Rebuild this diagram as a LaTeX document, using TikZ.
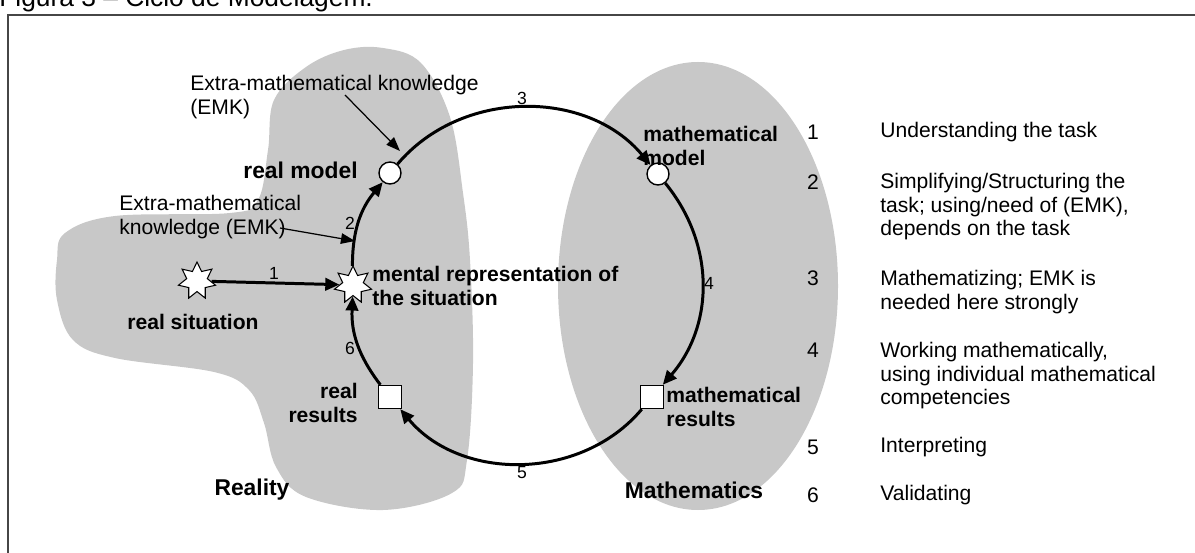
\documentclass[tikz,border=0pt]{standalone}
\usepackage{fontspec}
\setmainfont{Liberation Sans}
\usetikzlibrary{shapes.geometric,arrows.meta}
\definecolor{blobgray}{RGB}{200,200,200}
\definecolor{framegray}{RGB}{70,70,70}

\begin{document}
\begin{tikzpicture}[x=0.02cm, y=-0.02cm, every node/.style={inner sep=0pt},
  txt/.style={font=\fontsize{12}{13.4}\selectfont, align=left},
  lbl/.style={font=\fontsize{12}{13.4}\selectfont\bfseries, align=left},
  big/.style={font=\fontsize{13}{15}\selectfont\bfseries},
  arcnum/.style={font=\fontsize{10}{12}\selectfont},
  cyc/.style={line width=1.7pt, -{Triangle[length=8pt,width=7pt]}},
  emk/.style={line width=0.7pt, -{Triangle[length=8pt,width=6pt]}},
  burst/.style={star, star points=7, star point ratio=1.8, minimum size=0.76cm, draw, fill=white, line width=0.6pt},
  dot/.style={circle, draw, fill=white, minimum size=0.44cm, line width=0.8pt},
  box/.style={rectangle, draw, fill=white, minimum size=0.46cm, line width=0.8pt}]
  \useasboundingbox (0,0) rectangle (1195,553);
  \node[font=\fontsize{15}{18}\selectfont, anchor=base west] (caption) at (-1,7) {Figura 3 – Ciclo de Modelagem.};
  \draw[framegray, line width=0.9pt] (8,570) -- (8,15) -- (1210,15);
  \fill[blobgray] plot[smooth cycle, tension=0.6] coordinates {(268,150) (274,100) (306,67) (344,50) (383,48) (421,63) (450,117) (463,193) (470,260) (473,363) (467,460) (452,493) (383,510) (306,497) (276,467) (264,423) (249,390) (214,372) (115,358) (73,340) (57,300) (57,260) (65,233) (115,216) (230,213) (258,200)};
  \fill[blobgray] (698,286) ellipse [x radius=140, y radius=224];
  \node[burst] (realsit) at (197,281) {};
  \node[burst] (mentalrep) at (353,285) {};
  \node[dot] (realmodel) at (390,173) {};
  \node[dot] (mathmodel) at (658,174) {};
  \node[box] (mathres) at (652,397) {};
  \node[box] (realres) at (390,397) {};
  \draw[cyc] (realsit) -- (mentalrep);
  \draw[cyc] (mentalrep) to[bend left=20] (realmodel);
  \draw[cyc] (realmodel) to[bend left=50] (mathmodel);
  \draw[cyc] (mathmodel) to[bend left=40] (mathres);
  \draw[cyc] (mathres) to[bend left=50] (realres);
  \draw[cyc] (realres) to[bend left=20] (mentalrep);
  \node[txt, anchor=west] (emkup) at (190,97) {Extra-mathematical knowledge\\(EMK)};
  \node[txt, anchor=west] (emklow) at (119,217) {Extra-mathematical\\knowledge (EMK)};
  \coordinate (emkuptail) at (345,95);
  \coordinate (emkuphead) at (400,151);
  \coordinate (emklowtail) at (280,228);
  \coordinate (emklowhead) at (355,241);
  \draw[emk] (emkuptail) -- (emkuphead);
  \draw[emk] (emklowtail) -- (emklowhead);
  \node[big, anchor=east] (lblrealmodel) at (358,170) {real model};
  \node[lbl] (lblrealsit) at (193,322) {real situation};
  \node[lbl, anchor=west] (lblmental) at (372,286) {mental representation of\\the situation};
  \node[lbl, anchor=east, align=right] (lblrealres) at (358,403) {real\\results};
  \node[lbl, anchor=west] (lblmathmodel) at (643,146) {mathematical\\model};
  \node[lbl, anchor=west] (lblmathres) at (666,407) {mathematical\\results};
  \node[big] (reality) at (252,490) {Reality};
  \node[big] (mathematics) at (694,490) {Mathematics};
  \node[arcnum] (n1) at (274,273) {1};
  \node[arcnum] (n2) at (350,223) {2};
  \node[arcnum] (n3) at (522,98) {3};
  \node[arcnum] (n4) at (709,283) {4};
  \node[arcnum] (n5) at (522,473) {5};
  \node[arcnum] (n6) at (350,348) {6};
  \foreach \n/\y in {1/132,2/182,3/278,4/350,5/447,6/495}
    \node[txt] (idx\n) at (813,\y) {\n};
  \node[txt, anchor=west] (desc1) at (880,132) {Understanding the task};
  \node[txt, anchor=west] (desc2) at (880,207) {Simplifying/Structuring the\\task; using/need of (EMK),\\depends on the task};
  \node[txt, anchor=west] (desc3) at (880,292) {Mathematizing; EMK is\\needed here strongly};
  \node[txt, anchor=west] (desc4) at (880,376) {Working mathematically,\\using individual mathematical\\competencies};
  \node[txt, anchor=west] (desc5) at (880,447) {Interpreting};
  \node[txt, anchor=west] (desc6) at (880,495) {Validating};
\end{tikzpicture}
\end{document}
